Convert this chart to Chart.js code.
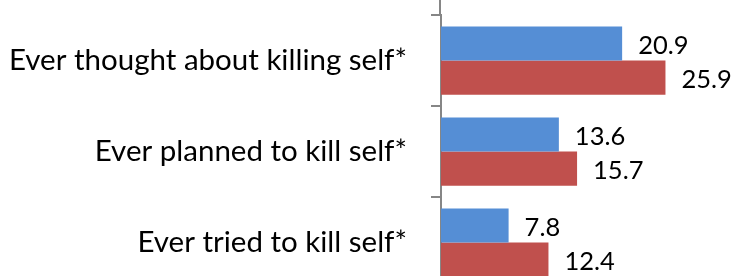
<!DOCTYPE html>
<html>
<head>
<meta charset="utf-8">
<script src="https://cdn.jsdelivr.net/npm/chart.js@4"></script>
<style>
  html, body { margin: 0; padding: 0; background: #fff; }
  #wrap { width: 731px; height: 276px; overflow: hidden; position: relative; }
  #wrap canvas { position: absolute; left: 0; top: 0; }
</style>
</head>
<body>
<div id="wrap"><canvas id="chart" width="731" height="288"></canvas></div>
<script>
const categories = ["Ever thought about killing self*", "Ever planned to kill self*", "Ever tried to kill self*"];
const seriesA = [20.9, 13.6, 7.8];
const seriesB = [25.9, 15.7, 12.4];

// draws the value next to each bar end
const valueLabels = {
  id: "valueLabels",
  afterDatasetsDraw(chart) {
    const ctx = chart.ctx;
    ctx.save();
    ctx.font = "25.5px Lato";
    ctx.fillStyle = "#000";
    ctx.textAlign = "left";
    ctx.textBaseline = "middle";
    chart.data.datasets.forEach((ds, i) => {
      chart.getDatasetMeta(i).data.forEach((bar, j) => {
        ctx.fillText(ds.data[j].toFixed(1), bar.x + 16, bar.y + 2);
      });
    });
    ctx.restore();
  }
};

// the axis line keeps going above the first category (chart is cropped)
const axisTop = {
  id: "axisTop",
  afterDraw(chart) {
    const ctx = chart.ctx;
    const a = chart.chartArea;
    ctx.save();
    ctx.strokeStyle = "#868686";
    ctx.lineWidth = 2;
    ctx.beginPath();
    ctx.moveTo(a.left - 1, 0);
    ctx.lineTo(a.left - 1, a.top);
    ctx.stroke();
    ctx.restore();
  }
};

new Chart(document.getElementById("chart"), {
  type: "bar",
  data: {
    labels: categories,
    datasets: [
      {label: "A", data: seriesA, backgroundColor: "#558ED5", categoryPercentage: 0.75, barPercentage: 1.0},
      {label: "B", data: seriesB, backgroundColor: "#C0504D", categoryPercentage: 0.75, barPercentage: 1.0}
    ]
  },
  options: {
    indexAxis: "y",
    responsive: false,
    animation: false,
    layout: {padding: {top: 15, right: 30, left: 0, bottom: 0}},
    plugins: {legend: {display: false}, tooltip: {enabled: false}},
    scales: {
      x: {display: false, min: 0, max: 30},
      y: {
        afterFit(scale) {
          scale.width = 441;
          scale.paddingTop = 0;
          scale.paddingBottom = 0;
        },
        border: {color: "#868686", width: 2},
        grid: {drawOnChartArea: false, drawTicks: true, tickLength: 10, color: "#868686", lineWidth: 2, offset: true},
        ticks: {color: "#000", padding: 24, font: {family: "Lato", size: 29.5}}
      }
    }
  },
  plugins: [valueLabels, axisTop]
});
</script>
</body>
</html>
